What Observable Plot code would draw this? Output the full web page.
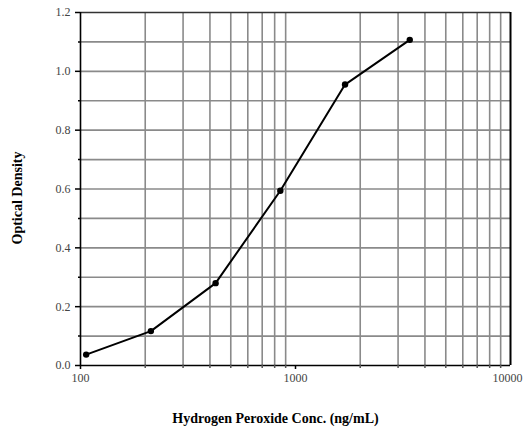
<!DOCTYPE html>
<html>
<head>
<meta charset="utf-8">
<script src="https://cdn.jsdelivr.net/npm/d3@7"></script>
<script src="https://cdn.jsdelivr.net/npm/@observablehq/plot@0.6"></script>
<style>
  html, body { margin: 0; padding: 0; background: #fff; }
  svg { display: block; }
  svg text { font-family: 'Liberation Serif', 'DejaVu Serif', serif !important; }
</style>
</head>
<body>
<div id="chart"></div>
<script>
const conc = [106.25, 212.5, 425, 850, 1700, 3400];
const od = [0.037, 0.117, 0.280, 0.594, 0.955, 1.107];
const xMajorTicks = [100, 1000];
const xLastTick = [10000];
const xMinorTicks = [200, 300, 400, 500, 600, 700, 800, 900, 2000, 3000, 4000, 5000, 6000, 7000, 8000, 9000];
const yMajorTicks = [0, 0.2, 0.4, 0.6, 0.8, 1.0, 1.2];
const yMinorTicks = [0.1, 0.3, 0.5, 0.7, 0.9, 1.1];
const yGrid = [0.1, 0.2, 0.3, 0.4, 0.5, 0.6, 0.7, 0.8, 0.9, 1.0, 1.1];
const xLabel = "Hydrogen Peroxide Conc. (ng/mL)";
const yLabel = "Optical Density";

const data = conc.map((c, i) => ({conc: c, od: od[i]}));
const serif = "'Liberation Serif', 'DejaVu Serif', serif";

const chart = Plot.plot({
  width: 524,
  height: 428,
  marginLeft: 80,
  marginRight: 14,
  marginTop: 12,
  marginBottom: 63,
  style: {fontFamily: serif, fontSize: "12px", background: "#fff", overflow: "visible"},
  x: {type: "log", domain: [100, 10000], label: null},
  y: {domain: [0, 1.2], label: null},
  marks: [
    Plot.ruleX(xMinorTicks, {stroke: "#8a8a8a", strokeWidth: 1.6}),
    Plot.ruleY(yGrid, {stroke: "#8a8a8a", strokeWidth: 1.6}),
    Plot.ruleY([1.2], {stroke: "#333", strokeWidth: 1.6}),
    Plot.ruleX([10000], {stroke: "#000", strokeWidth: 2}),
    Plot.ruleX([100], {stroke: "#000", strokeWidth: 1.6}),
    Plot.ruleY([0], {stroke: "#000", strokeWidth: 1.6}),
    Plot.axisY({ticks: yMajorTicks, tickFormat: d3.format(".1f"), tickSize: 5, tickPadding: 5, stroke: "#000", strokeWidth: 1.5, fill: "#444", label: null, fontSize: 12, fontFamily: serif}),
    Plot.axisY({ticks: yMinorTicks, tickSize: 2, text: null, stroke: "#000", strokeWidth: 1.5, label: null}),
    Plot.axisX({ticks: xMajorTicks, tickFormat: d3.format("d"), tickSize: 4, tickPadding: 4, stroke: "#000", strokeWidth: 1.5, fill: "#444", label: null, fontSize: 12, fontFamily: serif}),
    Plot.axisX({ticks: xLastTick, tickFormat: d3.format("d"), tickSize: 0, tickPadding: 8, dx: -3, fill: "#444", label: null, fontSize: 12, fontFamily: serif}),
    Plot.axisX({ticks: xMinorTicks, tickSize: 3, text: null, stroke: "#555", strokeWidth: 1.5, label: null}),
    Plot.line(data, {x: "conc", y: "od", stroke: "#000", strokeWidth: 2}),
    Plot.dot(data, {x: "conc", y: "od", r: 3.2, fill: "#000", stroke: null}),
    Plot.text([yLabel], {frameAnchor: "left", textAnchor: "middle", dx: -63, dy: 9, rotate: -90, fontWeight: "bold", fontSize: 14, fontFamily: serif, fill: "#000"}),
    Plot.text([xLabel], {frameAnchor: "bottom", textAnchor: "middle", dx: -20, dy: 57, fontWeight: "bold", fontSize: 14, fontFamily: serif, fill: "#000"})
  ]
});
document.getElementById("chart").appendChild(chart);
</script>
</body>
</html>
